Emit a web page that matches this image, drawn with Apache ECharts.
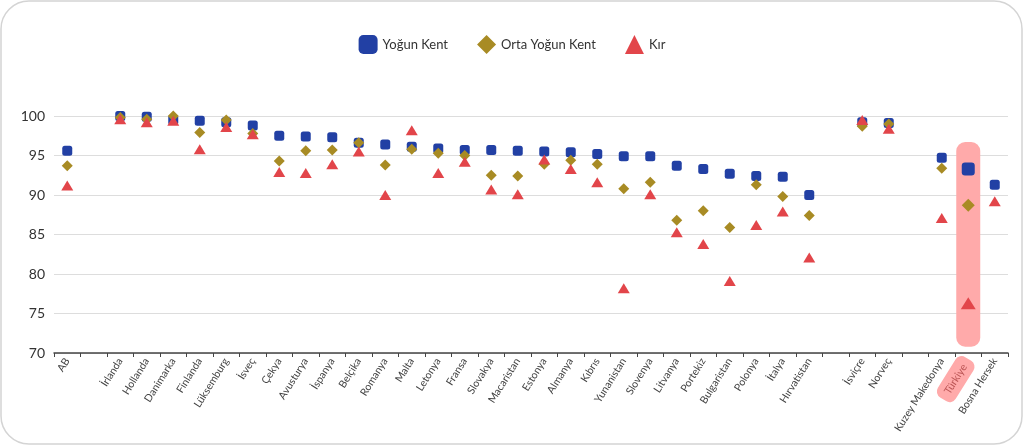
<!DOCTYPE html>
<html><head><meta charset="utf-8">
<script src="https://cdn.jsdelivr.net/npm/echarts@6/dist/echarts.min.js"></script>
<style>html,body{margin:0;padding:0;background:#fff}#c{width:1024px;height:446px}</style>
</head><body><div id="c"></div>
<script>
const categories = ['AB','','İrlanda','Hollanda','Danimarka','Finlanda','Lüksemburg','İsveç','Çekya','Avusturya','İspanya','Belçika','Romanya','Malta','Letonya','Fransa','Slovakya','Macaristan','Estonya','Almanya','Kıbrıs','Yunanistan','Slovenya','Litvanya','Portekiz','Bulgaristan','Polonya','İtalya','Hırvatistan','','İsviçre','Norveç','','Kuzey Makedonya','Türkiye','Bosna Hersek'];
const yogunKent = [95.6,null,100,99.9,99.5,99.4,99.2,98.8,97.5,97.4,97.3,96.6,96.4,96.1,95.9,95.7,95.7,95.6,95.5,95.4,95.2,94.9,94.9,93.7,93.3,92.7,92.4,92.3,90.0,null,99.2,99.1,null,94.7,93.3,91.3];
const ortaYogunKent = [93.7,null,99.8,99.6,100,97.9,99.5,97.8,94.3,95.6,95.7,96.6,93.8,95.8,95.3,95.0,92.5,92.4,93.9,94.4,93.9,90.8,91.6,86.8,88.0,85.9,91.3,89.8,87.4,null,98.7,99.0,null,93.4,88.7,null];
const kir = [91.2,null,99.6,99.2,99.4,95.8,98.6,97.7,92.9,92.8,93.9,95.5,90.0,98.2,92.8,94.2,90.7,90.1,94.5,93.3,91.6,78.2,90.1,85.3,83.8,79.1,86.2,87.9,82.1,null,99.5,98.4,null,87.1,76.3,89.2];
const yTicks = {min:70, max:100, interval:5};
const highlightCategory = 'Türkiye';
const highlightRange = [70.8, 96.7];

const hi = categories.indexOf(highlightCategory);
function pts(arr, bigSize){
  return arr.map((v,i)=> v==null ? '-' : (i===hi ? {value:v, symbolSize:bigSize} : v));
}
const baseBar = categories.map((c,i)=> i===hi ? highlightRange[0] : '-');
const topBar = categories.map((c,i)=> i===hi ? highlightRange[1]-highlightRange[0] : '-');

const FONT = 'Lato';
const chart = echarts.init(document.getElementById('c'), null, {renderer:'canvas'});
chart.setOption({
  animation:false,
  textStyle:{fontFamily:FONT},
  graphic:[{type:'rect', silent:true, z:-10,
    shape:{x:1,y:1,width:1021,height:443,r:28},
    style:{fill:'none', stroke:'#d4d4d4', lineWidth:1.5}}],
  legend:{
    top:30, left:'center', itemWidth:19, itemHeight:19, itemGap:29,
    textStyle:{fontSize:13, color:'#333', fontFamily:FONT},
    data:[{name:'Yoğun Kent',icon:'roundRect'},{name:'Orta Yoğun Kent',icon:'diamond'},{name:'Kır',icon:'triangle'}]
  },
  grid:{left:54, right:16, top:116, bottom:93, containLabel:false},
  xAxis:{
    type:'category', data:categories, boundaryGap:true,
    axisLine:{lineStyle:{color:'#444', width:1.5}},
    axisTick:{show:true, length:4, interval:0, lineStyle:{color:'#444'}},
    axisLabel:{interval:0, rotate:58, fontSize:10.5, color:'#444', margin:6, fontFamily:FONT,
      formatter:(v)=> v===highlightCategory ? '{h|'+v+'}' : v,
      rich:{h:{backgroundColor:'#ffaaaa', borderRadius:7, padding:[5,7,5,7], color:'#b55', fontSize:10.5, fontFamily:FONT}}
    },
    splitLine:{show:false}
  },
  yAxis:{
    type:'value', min:yTicks.min, max:yTicks.max, interval:yTicks.interval,
    axisLine:{show:false}, axisTick:{show:false},
    axisLabel:{fontSize:14, color:'#333', margin:9, fontFamily:FONT},
    splitLine:{lineStyle:{color:'#dddddd', width:1}}
  },
  series:[
    {type:'bar', name:'hlbase', stack:'hl', data:baseBar, barWidth:24, itemStyle:{color:'rgba(0,0,0,0)'}, silent:true, z:1},
    {type:'bar', name:'hl', stack:'hl', data:topBar, barWidth:24, itemStyle:{color:'#ffaaaa', borderRadius:9}, silent:true, z:1},
    {type:'scatter', name:'Yoğun Kent', data:pts(yogunKent,13), symbol:'roundRect', symbolSize:10, itemStyle:{color:'#2240a4', opacity:1}, clip:false, z:3},
    {type:'scatter', name:'Orta Yoğun Kent', data:pts(ortaYogunKent,13), symbol:'diamond', symbolSize:11, itemStyle:{color:'#a88b24', opacity:1}, clip:false, z:4},
    {type:'scatter', name:'Kır', data:pts(kir,[15,12]), symbol:'triangle', symbolSize:[12,10], itemStyle:{color:'#e2454a', opacity:1}, clip:false, z:5}
  ]
});
</script></body></html>
